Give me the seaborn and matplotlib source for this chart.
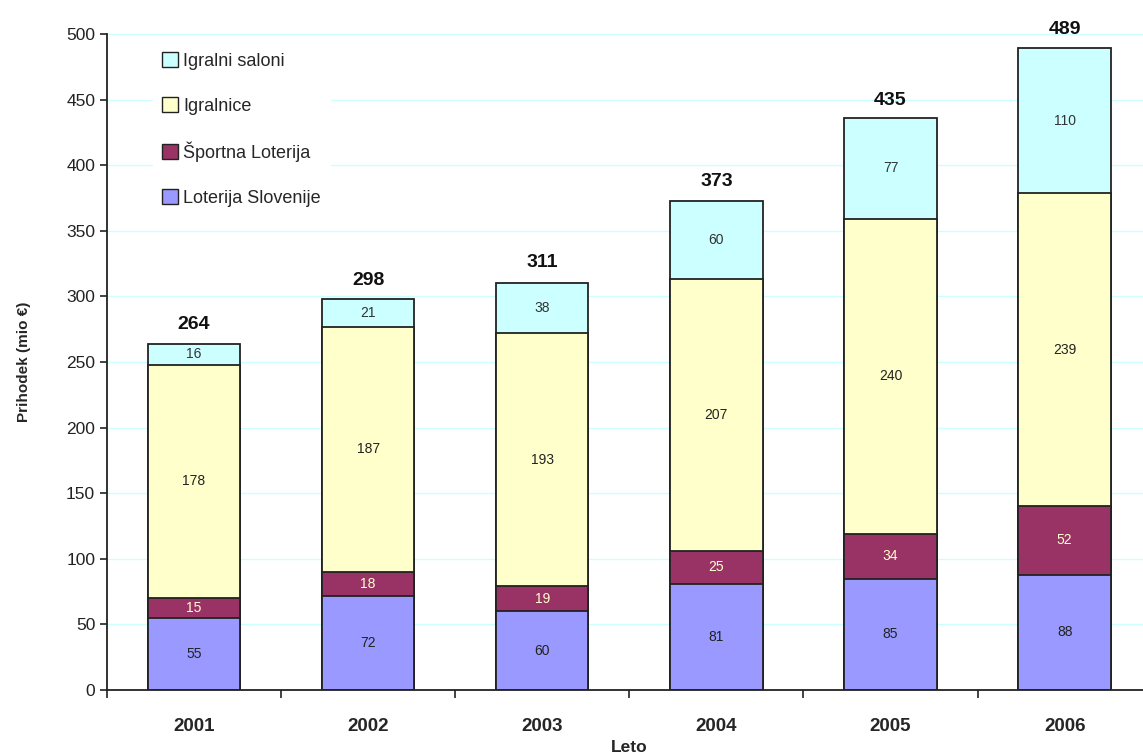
import matplotlib
matplotlib.use("Agg")
import matplotlib.pyplot as plt
import seaborn as sns
import pandas as pd
import numpy as np
from matplotlib.patches import Patch

# ============================
# DATA
# ============================
leta = ["2001", "2002", "2003", "2004", "2005", "2006"]
loterija_slovenije = [55, 72, 60, 81, 85, 88]
sportna_loterija = [15, 18, 19, 25, 34, 52]
igralnice = [178, 187, 193, 207, 240, 239]
igralni_saloni = [16, 21, 38, 60, 77, 110]
skupaj = [264, 298, 311, 373, 435, 489]

serije = ["Loterija Slovenije", "Športna Loterija", "Igralnice", "Igralni saloni"]
barve = ["#9999FF", "#993366", "#FFFFCC", "#CCFFFF"]
barve_besedila = ["#222222", "#FFFFCC", "#222222", "#333333"]

df = pd.DataFrame({
    "Leto": leta,
    "Loterija Slovenije": loterija_slovenije,
    "Športna Loterija": sportna_loterija,
    "Igralnice": igralnice,
    "Igralni saloni": igralni_saloni,
})
kum = df[serije].cumsum(axis=1)

sns.set_style("white")
plt.rcParams["font.family"] = ["Liberation Sans", "DejaVu Sans"]

fig = plt.figure(figsize=(11.43, 7.55), dpi=100)
ax = fig.add_axes([0.0936, 0.086, 0.914, 0.869])

# stacked bars: draw tallest cumulative first
for i in reversed(range(len(serije))):
    sns.barplot(x=df["Leto"], y=kum[serije[i]], color=barve[i], width=0.53,
                edgecolor="#222222", linewidth=1.3, saturation=1, ax=ax, zorder=2)

# segment labels
for i, s in enumerate(serije):
    for j in range(len(leta)):
        vrh = kum[s][j]
        val = df[s][j]
        ax.text(j, vrh - val / 2, str(val), ha="center", va="center",
                fontsize=10, color=barve_besedila[i], zorder=4)

# totals
for j, t in enumerate(skupaj):
    ax.text(j, t + 8, str(t), ha="center", va="bottom", fontsize=14,
            fontweight="bold", color="#111111", zorder=4)

ax.set_ylim(0, 500)
ax.set_xlim(-0.5, 5.5)
ax.set_yticks(np.arange(0, 501, 50))
ax.yaxis.grid(True, color="#CCFFFF", linewidth=1, zorder=0)
ax.set_axisbelow(True)

ax.set_xticks(np.arange(-0.5, 6, 1), minor=False)
ax.set_xticklabels([""] * 7)
ax.set_xticks(np.arange(6), minor=True)
ax.set_xticklabels(leta, minor=True, fontsize=13.5, fontweight="bold")
ax.tick_params(axis="x", which="major", bottom=True, length=6, width=1.2,
               direction="out", color="#222222")
ax.tick_params(axis="x", which="minor", bottom=True, length=0, pad=20)
ax.tick_params(axis="y", left=True, length=5, width=1.2, direction="out", color="#222222",
               labelsize=12.5, labelcolor="#222222")

for sp in ["top", "right"]:
    ax.spines[sp].set_visible(False)
for sp in ["left", "bottom"]:
    ax.spines[sp].set_color("#222222")
    ax.spines[sp].set_linewidth(1.3)

ax.set_ylabel("Prihodek (mio €)", fontsize=11, fontweight="bold", labelpad=25)
ax.set_xlabel("Leto", fontsize=12.5, fontweight="bold", labelpad=4)

# legend
ročke = [Patch(facecolor=barve[i], edgecolor="#222222", label=serije[i]) for i in reversed(range(4))]
leg = ax.legend(handles=ročke, loc="upper left", bbox_to_anchor=(0.035, 1.0),
                frameon=True, fontsize=13, labelspacing=1.5, handlelength=0.9,
                handleheight=0.9, handletextpad=0.3, borderpad=0.5)
leg.get_frame().set_edgecolor("white")
leg.get_frame().set_facecolor("white")
leg.get_frame().set_alpha(1)
leg.set_zorder(5)

fig.savefig("out.png", dpi=100)
